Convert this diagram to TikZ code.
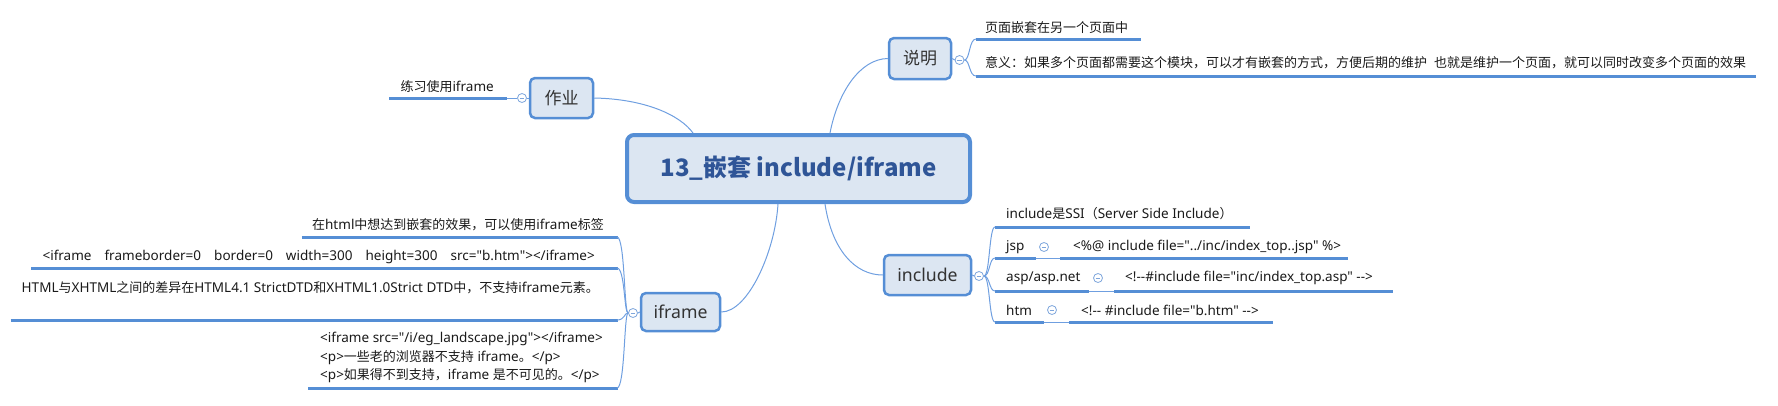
\documentclass[tikz,border=0pt]{standalone}
\usepackage{fontspec}
\newfontfamily\cjk{Noto Sans CJK SC}
\newfontfamily\lat[Scale=1.04]{Noto Sans}
\makeatletter
\newXeTeXintercharclass\CJKcls
\def\setcjkrange#1#2{\count@=#1\relax
  \loop\XeTeXcharclass\count@=\CJKcls\relax
  \ifnum\count@<#2\relax\advance\count@\@ne\repeat}
\setcjkrange{"3000}{"303F}
\setcjkrange{"4E00}{"9FFF}
\setcjkrange{"FF00}{"FFEF}
\makeatother
\XeTeXinterchartoks 0 \CJKcls = {\begingroup\cjk}
\XeTeXinterchartoks 4095 \CJKcls = {\begingroup\cjk}
\XeTeXinterchartoks \CJKcls 0 = {\endgroup}
\XeTeXinterchartoks \CJKcls 4095 = {\endgroup}
\newcommand\mixoff{\XeTeXinterchartokenstate=0\relax}
\newcommand\mixon{\XeTeXinterchartokenstate=1\relax}
\newcommand\gap{\hspace{13pt}}
\usetikzlibrary{calc}
\definecolor{boxfill}{HTML}{DCE6F2}
\definecolor{boxline}{HTML}{558ED5}
\definecolor{ulblue}{HTML}{558ED5}
\definecolor{conblue}{HTML}{6F9FE0}
\definecolor{titleblue}{HTML}{2F5597}
\definecolor{txt}{HTML}{1A1A1A}
\definecolor{lbl}{HTML}{333333}
\definecolor{foldblue}{HTML}{7EA6DC}
\begin{document}
\begin{tikzpicture}[x=1pt,y=-1pt,
  rootbox/.style={rectangle, rounded corners=7pt, draw=boxline, line width=4pt, fill=boxfill,
    minimum width=343pt, minimum height=67pt, inner sep=0pt, text=titleblue,
    font=\mixoff\cjk\bfseries\fontsize{24}{28}\selectfont},
  topic/.style={rectangle, rounded corners=5pt, draw=boxline, line width=2.5pt, fill=boxfill,
    inner sep=0pt, text=lbl, font=\mixon\lat\fontsize{17}{20}\selectfont},
  leaf/.style={inner sep=0pt, text=txt, font=\mixon\lat\fontsize{13}{18.5}\selectfont},
  ul/.style={draw=ulblue, line width=3pt},
  conn/.style={draw=conblue, line width=1pt},
  fold/.style={circle, draw=foldblue, fill=white, minimum size=9pt, inner sep=0pt, line width=0.8pt,
    path picture={\draw[foldblue, line width=0.8pt]
      ([xshift=-2.4pt]path picture bounding box.center) -- ([xshift=2.4pt]path picture bounding box.center);}}
]
\useasboundingbox (0,0) rectangle (1778,405);

% ---------- main nodes ----------
\node[rootbox] (root) at (798.5,168.5) {13\_嵌套 include/iframe};
\node[topic, minimum width=63pt, minimum height=40pt] (zy) at (561.5,98) {作业};
\node[topic, minimum width=62pt, minimum height=41pt] (sm) at (920,58.5) {说明};
\node[topic, minimum width=87pt, minimum height=40pt] (inc) at (927.5,275) {include};
\node[topic, minimum width=79pt, minimum height=38pt] (ifr) at (680.5,312) {iframe};

% anchor points on the root border
\coordinate (rt1) at ([xshift=68pt]root.north west);
\coordinate (rt2) at ([xshift=205pt]root.north west);
\coordinate (rb1) at ([xshift=153pt]root.south west);
\coordinate (rb2) at ([xshift=200pt]root.south west);

% ---------- connectors from root ----------
\draw[conn] (zy.east) .. controls (645,99) and (680,115) .. (rt1);
\draw[conn] (rt2) .. controls (838,92) and (860,59) .. (sm.west);
\draw[conn] (rb2) .. controls (832,250) and (855,275) .. (inc.west);
\draw[conn] (rb1) .. controls (775,252) and (748,312) .. (ifr.east);

% ---------- fold markers ----------
\node[fold] (fzy) at (522,98) {};
\node[fold] (fsm) at (959.5,60) {};
\node[fold] (finc) at (979,276) {};
\node[fold] (fifr) at (633,313) {};
\node[fold] (fjsp) at (1044,247) {};
\node[fold] (fasp) at (1098,278) {};
\node[fold] (fhtm) at (1052,310) {};
\draw[conn] (zy.west) -- (fzy.east);
\draw[conn] (sm.east) -- (fsm.west);
\draw[conn] (inc.east) -- (finc.west);
\draw[conn] (ifr.west) -- (fifr.east);

% ---------- 作业 branch ----------
\node[leaf, anchor=east] (tzy) at (494,87) {练习使用iframe};
\coordinate (tzyL) at ([xshift=-11pt]tzy.west);
\coordinate (uzyR) at (507,98);
\draw[ul] (tzyL |- uzyR) -- (uzyR);
\draw[conn] (uzyR) -- (fzy.west);

% ---------- 说明 branch ----------
\node[leaf, anchor=west] (tsm1) at (985,28) {页面嵌套在另一个页面中};
\node[leaf, anchor=west] (tsm2) at (985,63) {意义：如果多个页面都需要这个模块，可以才有嵌套的方式，方便后期的维护\ \ 也就是维护一个页面，就可以同时改变多个页面的效果};
\coordinate (usm1) at (976,39);
\coordinate (usm2) at (976,76);
\coordinate (tsm1R) at ([xshift=13pt]tsm1.east);
\coordinate (tsm2R) at ([xshift=10pt]tsm2.east);
\draw[ul] (usm1) -- (tsm1R |- usm1);
\draw[ul] (usm2) -- (tsm2R |- usm2);
\draw[conn] (fsm.east) .. controls (970,60) and (969,39) .. (usm1);
\draw[conn] (fsm.east) .. controls (970,60) and (969,76) .. (usm2);

% ---------- include branch ----------
\node[leaf, anchor=west] (ti1) at (1006,214) {include是SSI（Server Side Include）};
\node[leaf, anchor=west] (tjsp) at (1006,247) {jsp};
\node[leaf, anchor=west] (tjspc) at (1073,247) {<\%@ include file="../inc/index\_top..jsp" \%>};
\node[leaf, anchor=west] (tasp) at (1006,278) {asp/asp.net};
\node[leaf, anchor=west] (taspc) at (1125,278) {<!--\#include file="inc/index\_top.asp" -->};
\node[leaf, anchor=west] (thtm) at (1006,310) {htm};
\node[leaf, anchor=west] (thtmc) at (1081,310) {<!-- \#include file="b.htm" -->};

\coordinate (ui1) at (995,227);
\coordinate (ujsp) at (995,258);
\coordinate (uasp) at (995,291);
\coordinate (uhtm) at (995,322);
\coordinate (ti1R) at ([xshift=17pt]ti1.east);
\draw[ul] (ui1) -- (ti1R |- ui1);

\coordinate (ujspA) at (1036,258);
\coordinate (ujspB) at (1060,258);
\coordinate (tjspcR) at ([xshift=7pt]tjspc.east);
\draw[ul] (ujsp) -- (ujspA);
\draw[conn] (ujspA) -- (ujspB);
\draw[ul] (ujspB) -- (tjspcR |- ujspB);

\coordinate (uaspA) at (1089,291);
\coordinate (uaspB) at (1114,291);
\coordinate (taspcR) at ([xshift=20pt]taspc.east);
\draw[ul] (uasp) -- (uaspA);
\draw[conn] (uaspA) -- (uaspB);
\draw[ul] (uaspB) -- (taspcR |- uaspB);

\coordinate (uhtmA) at (1044,322);
\coordinate (uhtmB) at (1069,322);
\coordinate (thtmcR) at ([xshift=14pt]thtmc.east);
\draw[ul] (uhtm) -- (uhtmA);
\draw[conn] (uhtmA) -- (uhtmB);
\draw[ul] (uhtmB) -- (thtmcR |- uhtmB);

\foreach \u in {ui1,ujsp,uasp,uhtm}{
  \draw[conn] (finc.east) .. controls (990,276) and (989,0 |- \u) .. (\u);
}

% ---------- iframe branch ----------
\node[leaf, anchor=east] (tf1) at (604,225) {在html中想达到嵌套的效果，可以使用iframe标签};
\node[leaf, anchor=east] (tf2) at (595,257) {<iframe\gap frameborder=0\gap border=0\gap width=300\gap height=300\gap src="b.htm"></iframe>};
\node[leaf, anchor=east] (tf3) at (599,288) {HTML与XHTML之间的差异在HTML4.1 StrictDTD和XHTML1.0Strict DTD中，不支持iframe元素。};
\node[leaf, anchor=east, align=left] (tf4) at (603,357.5) {<iframe src="/i/eg\_landscape.jpg"></iframe>\\<p>一些老的浏览器不支持 iframe。</p>\\<p>如果得不到支持，iframe 是不可见的。</p>};

\coordinate (uf1) at (618,237);
\coordinate (uf2) at (618,268);
\coordinate (uf3) at (618,320);
\coordinate (uf4) at (618,388);
\coordinate (tf1L) at ([xshift=-10pt]tf1.west);
\coordinate (tf2L) at ([xshift=-11pt]tf2.west);
\coordinate (tf3L) at ([xshift=-11pt]tf3.west);
\coordinate (tf4L) at ([xshift=-12pt]tf4.west);
\draw[ul] (tf1L |- uf1) -- (uf1);
\draw[ul] (tf2L |- uf2) -- (uf2);
\draw[ul] (tf3L |- uf3) -- (uf3);
\draw[ul] (tf4L |- uf4) -- (uf4);
\foreach \u in {uf1,uf2,uf3,uf4}{
  \draw[conn] (fifr.west) .. controls (624,313) and (625,0 |- \u) .. ([xshift=-1pt]\u);
}
\end{tikzpicture}
\end{document}
